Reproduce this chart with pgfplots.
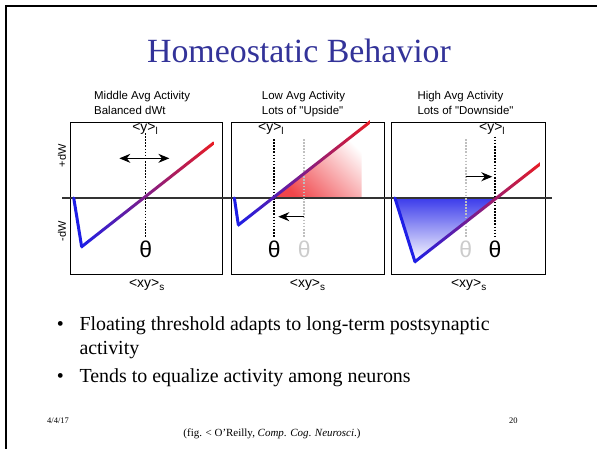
\documentclass[border=0pt]{standalone}
\usepackage{pgfplots}
\pgfplotsset{compat=1.18}
\usepackage{fontspec}
\setmainfont{Liberation Serif}
\newfontfamily\sans{Liberation Sans}
\usetikzlibrary{arrows.meta}
\definecolor{titleblue}{RGB}{51,51,153}
\definecolor{lblue}{RGB}{30,30,230}
\definecolor{lred}{RGB}{232,28,36}
\definecolor{lmid}{RGB}{118,108,112}
\definecolor{fblue}{RGB}{60,60,235}
\definecolor{fred}{RGB}{240,70,75}
\pgfplotsset{panel/.style={anchor=north west, width=152bp, height=152bp, scale only axis,
  xmin=0, xmax=1, ymin=-1, ymax=1, xtick=\empty, ytick=\empty, clip=false,
  axis line style={line width=0.9bp, black}}}
\tikzset{
  dotl/.style={line width=1.7bp, dash pattern=on 1.6bp off 1.5bp},
  zl/.style={line width=1.1bp, black!80},
  thfont/.style={font=\sans\fontsize{23}{23}\selectfont},
  lblfont/.style={font=\sans\fontsize{14}{14}\selectfont, inner sep=0pt},
  arr/.style={line width=1.1bp}}
\newcommand{\yl}{<y>\raisebox{-3bp}{\fontsize{10}{10}\selectfont l}}
\newcommand{\xys}{<xy>\raisebox{-3bp}{\fontsize{10}{10}\selectfont s}}
\begin{document}
\begin{tikzpicture}
\path[use as bounding box, fill=white] (0,0) rectangle (597bp,-449bp);
\draw[line width=2.5bp] (6.2bp,-449bp) -- (6.2bp,-6.2bp) -- (597bp,-6.2bp);
\node[anchor=base, font=\fontsize{34}{34}\selectfont, text=titleblue] at (299bp,-62bp) {Homeostatic Behavior};
% panel titles
\begin{scope}[every node/.style={anchor=base west, inner sep=0pt, font=\sans\fontsize{11.5}{11.5}\selectfont}]
\node at (94bp,-99.7bp) {Middle Avg Activity};
\node at (94bp,-114.3bp) {Balanced dWt};
\node at (261.7bp,-99.7bp) {Low Avg Activity};
\node at (261.7bp,-114.3bp) {Lots of "Upside"};
\node at (417.3bp,-99.7bp) {High Avg Activity};
\node at (417.3bp,-114.3bp) {Lots of "Downside"};
\end{scope}
% ---------- panel 1
\begin{axis}[panel, at={(70.7bp,-122bp)}]
\draw[zl] (axis cs:-0.057,0) -- (axis cs:1.028,0);
\addplot[black, dotl] coordinates {(0.493,0.855) (0.493,-0.513)};
\addplot[draw=none, left color=lblue, middle color=lmid, right color=lred]
  coordinates {(0.072,-0.666) (0.072,-0.616) (0.938,0.745) (0.938,0.695)};
\addplot[lblue, line width=3bp, line cap=round, line join=round] coordinates {(0.02,0) (0.072,-0.641)};
\draw[arr, {Stealth[length=11bp,width=9bp]}-{Stealth[length=11bp,width=9bp]}] (axis cs:0.32,0.522) -- (axis cs:0.649,0.522);
\node[thfont] at (axis cs:0.493,-0.671) {θ};
\node[lblfont, anchor=north] at (axis cs:0.489,1) [yshift=-1bp] {\yl};
\node[lblfont, anchor=north] at (axis cs:0.5,-1) [yshift=-5bp] {\xys};
\node[font=\sans\fontsize{11}{11}\selectfont, rotate=90, inner sep=0pt] at (axis cs:-0.057,0.553) {+dW};
\node[font=\sans\fontsize{11}{11}\selectfont, rotate=90, inner sep=0pt] at (axis cs:-0.057,-0.434) {-dW};
\end{axis}
% ---------- panel 2
\begin{axis}[panel, at={(231bp,-122bp)}, width=153bp]
\addplot[draw=none, top color=white, bottom color=fred, shading angle=-45]
  coordinates {(0.283,0) (0.854,0.914) (0.854,0)};
\draw[zl] (axis cs:-0.026,0) -- (axis cs:1.026,0);
\addplot[black!25, dotl] coordinates {(0.479,0.776) (0.479,-0.513)};
\addplot[black, dotl] coordinates {(0.283,0.776) (0.283,-0.513)};
\addplot[draw=none, left color=lblue, middle color=lmid, right color=lred]
  coordinates {(0.048,-0.38) (0.048,-0.33) (0.908,1.025) (0.908,0.975)};
\addplot[lblue, line width=3bp, line cap=round, line join=round] coordinates {(0.022,0) (0.048,-0.355)};
\draw[arr, -{Stealth[length=11bp,width=9bp]}] (axis cs:0.479,-0.246) -- (axis cs:0.309,-0.246);
\node[thfont] at (axis cs:0.283,-0.671) {θ};
\node[thfont, text=black!20] at (axis cs:0.479,-0.671) {θ};
\node[lblfont, anchor=north] at (axis cs:0.261,1) [yshift=-1bp] {\yl};
\node[lblfont, anchor=north] at (axis cs:0.5,-1) [yshift=-5bp] {\xys};
\end{axis}
% ---------- panel 3
\begin{axis}[panel, at={(391.7bp,-122bp)}, width=154bp]
\addplot[draw=none, top color=fblue, bottom color=white]
  coordinates {(0.021,0) (0.151,-0.838) (0.671,0)};
\draw[zl] (axis cs:-0.024,0) -- (axis cs:1.041,0);
\addplot[black!25, dotl] coordinates {(0.481,0.776) (0.481,-0.513)};
\addplot[black, dotl] coordinates {(0.671,0.807) (0.671,-0.513)};
\addplot[draw=none, left color=lblue, middle color=lmid, right color=lred]
  coordinates {(0.151,-0.863) (0.151,-0.813) (0.963,0.472) (0.963,0.422)};
\addplot[lblue, line width=3bp, line cap=round, line join=round] coordinates {(0.021,0) (0.151,-0.838)};
\draw[arr, -{Stealth[length=11bp,width=9bp]}] (axis cs:0.481,0.28) -- (axis cs:0.653,0.28);
\node[thfont, text=black!20] at (axis cs:0.481,-0.671) {θ};
\node[thfont] at (axis cs:0.671,-0.671) {θ};
\node[lblfont, anchor=north] at (axis cs:0.651,1) [yshift=-1bp] {\yl};
\node[lblfont, anchor=north] at (axis cs:0.5,-1) [yshift=-5bp] {\xys};
\end{axis}
% bullets
\begin{scope}[every node/.style={anchor=base west, inner sep=0pt, font=\fontsize{20}{24}\selectfont}]
\node at (56.7bp,-330bp) {•};
\node at (79.3bp,-330bp) {Floating threshold adapts to long-term postsynaptic};
\node at (79.3bp,-354bp) {activity};
\node at (56.7bp,-382bp) {•};
\node at (79.3bp,-382bp) {Tends to equalize activity among neurons};
\end{scope}
% footer
\node[anchor=base west, inner sep=0pt, font=\fontsize{8.5}{8.5}\selectfont] at (47bp,-423bp) {4/4/17};
\node[anchor=base, inner sep=0pt, font=\fontsize{11}{11}\selectfont] at (272bp,-436bp) {(fig. < O'Reilly, \textit{Comp}. \textit{Cog}. \textit{Neurosci}.)};
\node[anchor=base west, inner sep=0pt, font=\fontsize{8.5}{8.5}\selectfont] at (509bp,-423bp) {20};
\end{tikzpicture}
\end{document}
